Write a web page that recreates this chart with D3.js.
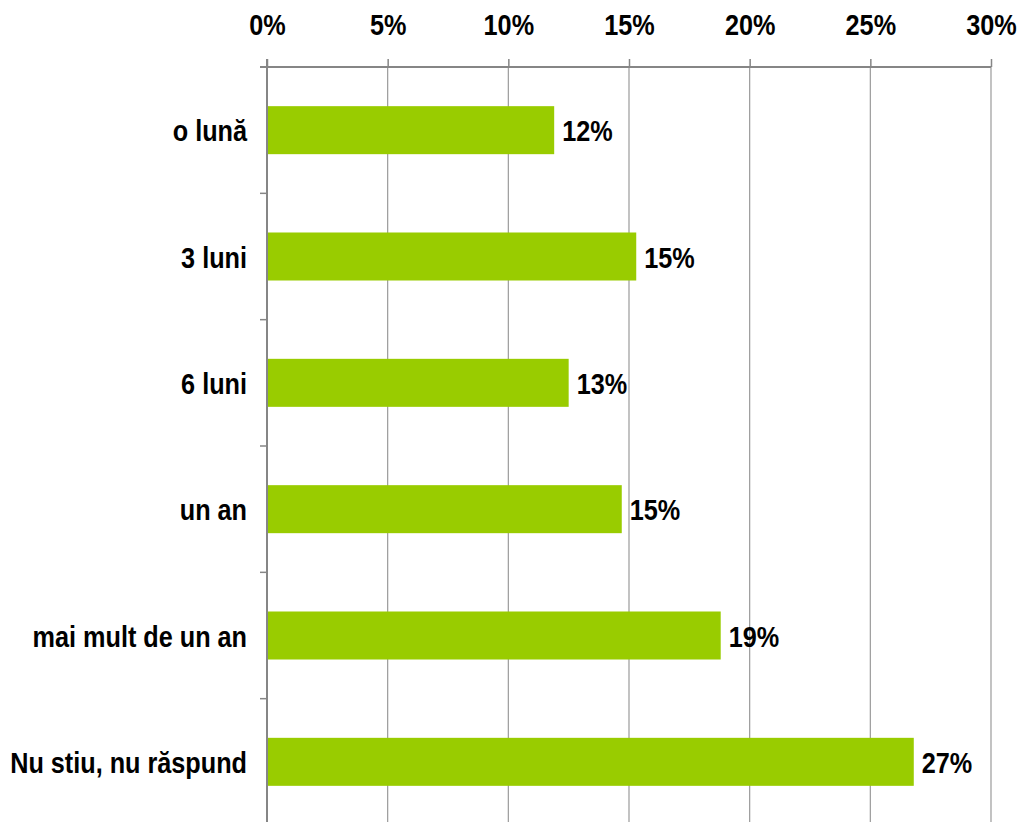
<!DOCTYPE html>
<html>
<head>
<meta charset="utf-8">
<script src="https://cdn.jsdelivr.net/npm/d3@7"></script>
<style>
  body { margin: 0; background: #fff; }
  text { font-family: "Liberation Sans", Arial, sans-serif; font-weight: bold; fill: #000; }
</style>
</head>
<body>
<div id="chart"></div>
<script>
// categories, top to bottom
const categories = ['o lună', '3 luni', '6 luni', 'un an', 'mai mult de un an', 'Nu stiu, nu răspund'];
// share of answers, percent
const values = [11.9, 15.3, 12.5, 14.7, 18.8, 26.8];
const labels = ['12%', '15%', '13%', '15%', '19%', '27%'];
const xTicks = [0, 5, 10, 15, 20, 25, 30];

const width = 1021, height = 822;
const margin = { top: 67, left: 267, right: 30, bottom: -3 };
const fontSize = '29px';
const squeeze = 'scale(0.87,1)'; // narrow look of the original font

const svg = d3.select('#chart')
    .append('svg')
    .attr('width', width)
    .attr('height', height);

const x = d3.scaleLinear()
    .domain([0, 30])
    .range([margin.left, 991]);

const y = d3.scaleBand()
    .domain(categories)
    .range([margin.top, height - margin.bottom])
    .paddingInner(0.62)
    .paddingOuter(0.31);

const step = y.step();
const plotBottom = height - margin.bottom;

// vertical gridlines
svg.append('g')
    .selectAll('line')
    .data(xTicks.slice(1))
    .join('line')
    .attr('x1', d => x(d)).attr('x2', d => x(d))
    .attr('y1', margin.top).attr('y2', plotBottom)
    .attr('stroke', '#9a9a9a')
    .attr('stroke-width', 1.2);

// top axis
const xAxis = svg.append('g')
    .attr('transform', 'translate(0,' + margin.top + ')')
    .call(d3.axisTop(x).tickValues(xTicks).tickFormat(d => d + '%').tickSize(8).tickSizeOuter(0));
xAxis.select('.domain').remove();
xAxis.selectAll('.tick line').attr('stroke', '#868686').attr('stroke-width', 1.5);
xAxis.selectAll('.tick text')
    .attr('y', -32)
    .attr('dy', null)
    .attr('transform', squeeze)
    .style('font-size', fontSize)
    .style('font-family', '"Liberation Sans", Arial, sans-serif')
    .style('font-weight', 'bold')
    .attr('fill', '#000');

svg.append('line')
    .attr('x1', margin.left - 7).attr('x2', x(30))
    .attr('y1', margin.top).attr('y2', margin.top)
    .attr('stroke', '#868686')
    .attr('stroke-width', 2);

// bars
svg.append('g')
    .selectAll('rect')
    .data(values)
    .join('rect')
    .attr('x', x(0))
    .attr('y', (d, i) => y(categories[i]))
    .attr('width', d => x(d) - x(0))
    .attr('height', y.bandwidth())
    .attr('fill', '#99cc00');

// left axis + boundary ticks
svg.append('line')
    .attr('x1', margin.left).attr('x2', margin.left)
    .attr('y1', margin.top - 8).attr('y2', plotBottom)
    .attr('stroke', '#868686')
    .attr('stroke-width', 2);

svg.append('g')
    .selectAll('line')
    .data(categories.slice(1))
    .join('line')
    .attr('x1', margin.left - 7).attr('x2', margin.left)
    .attr('y1', d => y(d) - (step - y.bandwidth()) / 2)
    .attr('y2', d => y(d) - (step - y.bandwidth()) / 2)
    .attr('stroke', '#868686')
    .attr('stroke-width', 1.5);

// category labels
svg.append('g')
    .selectAll('text')
    .data(categories)
    .join('text')
    .attr('transform', d => 'translate(247,' + (y(d) + y.bandwidth() / 2 + 11) + ') ' + squeeze)
    .attr('text-anchor', 'end')
    .style('font-size', fontSize)
    .text(d => d);

// value labels
svg.append('g')
    .selectAll('text')
    .data(values)
    .join('text')
    .attr('transform', (d, i) => 'translate(' + (x(d) + 8) + ',' + (y(categories[i]) + y.bandwidth() / 2 + 11) + ') ' + squeeze)
    .style('font-size', fontSize)
    .text((d, i) => labels[i]);
</script>
</body>
</html>
